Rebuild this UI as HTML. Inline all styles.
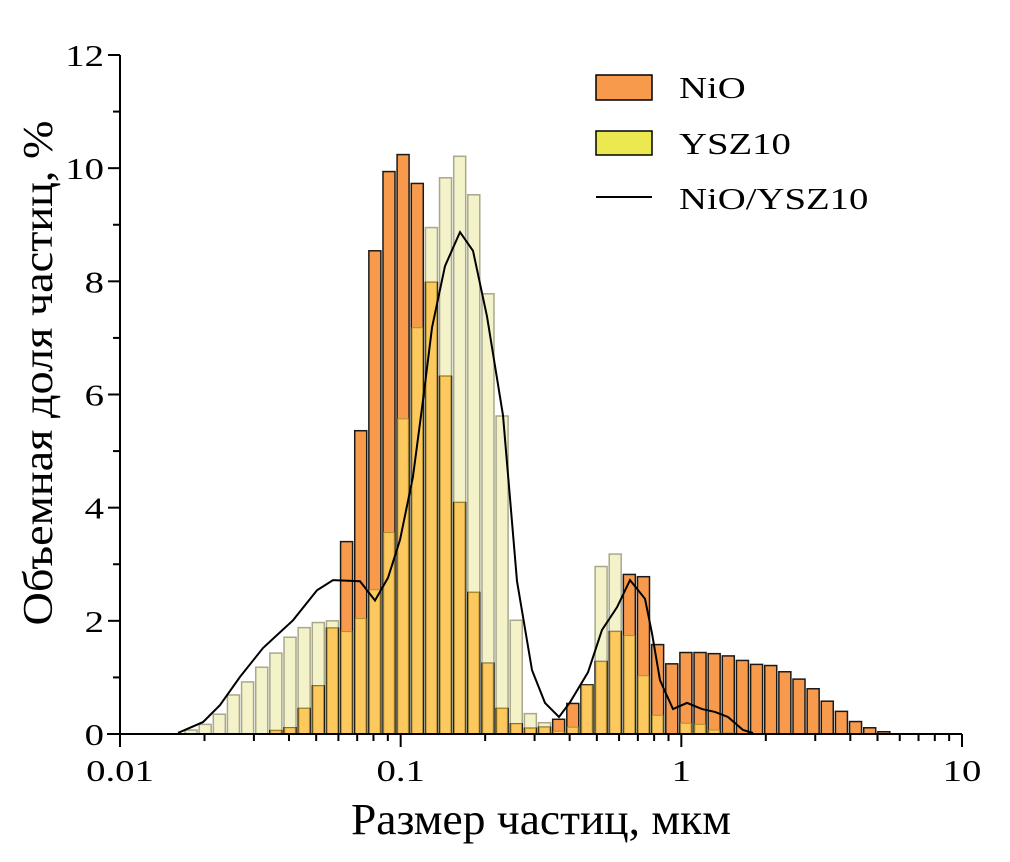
<!DOCTYPE html>
<html><head><meta charset="utf-8"><style>
html,body{margin:0;padding:0;background:#fff;}
svg{display:block;font-family:"Liberation Serif","DejaVu Serif",serif;}
</style></head><body>
<svg id="chart" width="1010" height="862" viewBox="0 0 1010 862">
<g id="bars"></g>
<path id="curve" fill="none" stroke="#000" stroke-width="2"/>
<g id="axes"></g>
<text x="541" y="834" font-size="44" text-anchor="middle" textLength="380" lengthAdjust="spacingAndGlyphs">Размер частиц, мкм</text>
<text transform="translate(52,373) rotate(-90)" font-size="42" text-anchor="middle" textLength="505" lengthAdjust="spacingAndGlyphs">Объемная доля частиц, %</text>
<g>
<g><rect x="596" y="75" width="56" height="25" fill="#f89a4c" stroke="#000" stroke-width="1.5"/><text transform="translate(679,98) scale(1.25,1)" font-size="31">NiO</text></g>
<g><rect x="596" y="131" width="56" height="24" fill="#ece850" stroke="#000" stroke-width="1.5"/><text transform="translate(679,154) scale(1.25,1)" font-size="31">YSZ10</text></g>
<g><line x1="596" y1="197" x2="652" y2="197" stroke="#000" stroke-width="2"/><text transform="translate(679,209) scale(1.25,1)" font-size="31">NiO/YSZ10</text></g>
</g>
</svg>
<script>
const binSizes=[0.01791,0.02011,0.02259,0.02536,0.02848,0.03199,0.03592,0.04034,0.04530,0.05087,0.05713,0.06416,0.07205,0.08091,0.09086,0.1020,0.1146,0.1287,0.1445,0.1623,0.1822,0.2047,0.2298,0.2581,0.2898,0.3255,0.3655,0.4105,0.4610,0.5177,0.5813,0.6528,0.7331,0.8233,0.9246,1.038,1.166,1.309,1.470,1.651,1.854,2.082,2.338,2.626,2.949,3.311,3.719,4.176,4.690,5.267];
const nioValues=[0,0,0,0,0,0,0.06,0.11,0.45,0.85,1.87,3.40,5.36,8.54,9.94,10.24,9.73,7.98,6.32,4.09,2.50,1.25,0.45,0.18,0.10,0.12,0.26,0.54,0.87,1.28,1.81,2.82,2.78,1.58,1.24,1.44,1.44,1.42,1.38,1.30,1.23,1.21,1.10,0.97,0.80,0.58,0.40,0.22,0.11,0.04];
const yszValues=[0.07,0.17,0.35,0.69,0.92,1.18,1.43,1.71,1.88,1.97,2.00,1.81,2.04,2.55,3.56,5.57,7.18,8.95,9.83,10.21,9.53,7.78,5.62,2.01,0.36,0.20,0.05,0.12,0.86,2.96,3.18,1.74,1.03,0.33,0,0.19,0.17,0.07,0.02,0,0,0,0,0,0,0,0,0,0,0];
const curveSizes=[0.01609,0.01975,0.02271,0.02677,0.03232,0.04133,0.05032,0.05739,0.07163,0.08104,0.09014,0.09945,0.1106,0.1201,0.1293,0.1439,0.1627,0.1810,0.2031,0.2315,0.2598,0.2937,0.3267,0.3665,0.4011,0.4650,0.5215,0.5898,0.6565,0.7422,0.7860,0.8394,0.9340,1.0476,1.185,1.318,1.466,1.659,1.800];
const curveValues=[0.02,0.21,0.51,1.01,1.52,2.01,2.54,2.72,2.70,2.36,2.76,3.43,4.54,5.90,7.18,8.27,8.87,8.54,7.38,5.63,2.70,1.13,0.55,0.30,0.56,1.09,1.84,2.24,2.72,2.39,1.78,0.95,0.44,0.55,0.44,0.39,0.30,0.07,0.02];
const xTickValues=[0.01,0.1,1,10];
const xTickLabels=["0.01","0.1","1","10"];
const yTickValues=[0,2,4,6,8,10,12];

const X0=120,X1=962,Y0=734,Y1=55;
const xs=v=>X0+(Math.log10(v)+2)/3*(X1-X0);
const ys=v=>Y0-v/12*(Y0-Y1);
const NS="http://www.w3.org/2000/svg";
function mk(tag,attrs,parent){const e=document.createElementNS(NS,tag);for(const k in attrs)e.setAttribute(k,attrs[k]);parent.appendChild(e);return e;}
const bars=document.getElementById('bars');
const BW=12;
binSizes.forEach((s,i)=>{
  const cx=xs(s), x=cx-BW/2;
  const n=nioValues[i], y=yszValues[i], m=Math.min(n,y);
  if(y>0){const r=mk('rect',{x:x,y:ys(y),width:BW,height:Y0-ys(y),fill:'#f3f2c8',stroke:'#a9a88c','stroke-width':1.5},bars);
    
    }
  if(n>0){const r=mk('rect',{x:x,y:ys(n),width:BW,height:Y0-ys(n),fill:'#f89a4c',stroke:'#1a1a1a','stroke-width':1.5},bars);
    
    }
  if(m>0){const r=mk('rect',{x:x+0.75,y:ys(m),width:BW-1.5,height:Y0-ys(m),fill:'#fdc95f',stroke:'#b0902e','stroke-width':1},bars);
    
    }
});
document.getElementById('curve').setAttribute('d',curveSizes.map((s,i)=>(i?'L':'M')+xs(s).toFixed(1)+','+ys(curveValues[i]).toFixed(1)).join(' '));
const ax=document.getElementById('axes');
mk('line',{x1:107,y1:Y0,x2:X1,y2:Y0,stroke:'#000','stroke-width':2},ax);
mk('line',{x1:X0,y1:Y0,x2:X0,y2:Y1,stroke:'#000','stroke-width':2},ax);
xTickValues.forEach((v,i)=>{
  mk('line',{x1:xs(v),y1:Y0,x2:xs(v),y2:Y0+13,stroke:'#000','stroke-width':2},ax);
  const t=mk('text',{transform:'translate('+xs(v)+',781) scale(1.25,1)','font-size':31,'text-anchor':'middle'},ax);t.textContent=xTickLabels[i];
  
  
  if(i<xTickValues.length-1){for(let k=2;k<=9;k++){const xx=xs(v*k);mk('line',{x1:xx,y1:Y0,x2:xx,y2:Y0+7,stroke:'#000','stroke-width':2},ax);}}
});
yTickValues.forEach((v,i)=>{
  mk('line',{x1:X0-12,y1:ys(v),x2:X0,y2:ys(v),stroke:'#000','stroke-width':2},ax);
  if(i<yTickValues.length-1){const yy=ys(v+1);mk('line',{x1:X0-7,y1:yy,x2:X0,y2:yy,stroke:'#000','stroke-width':2},ax);}
  const t=mk('text',{transform:'translate(104,'+(ys(v)+11)+') scale(1.25,1)','font-size':31,'text-anchor':'end'},ax);t.textContent=String(v);
  
  
});
</script>
</body></html>
